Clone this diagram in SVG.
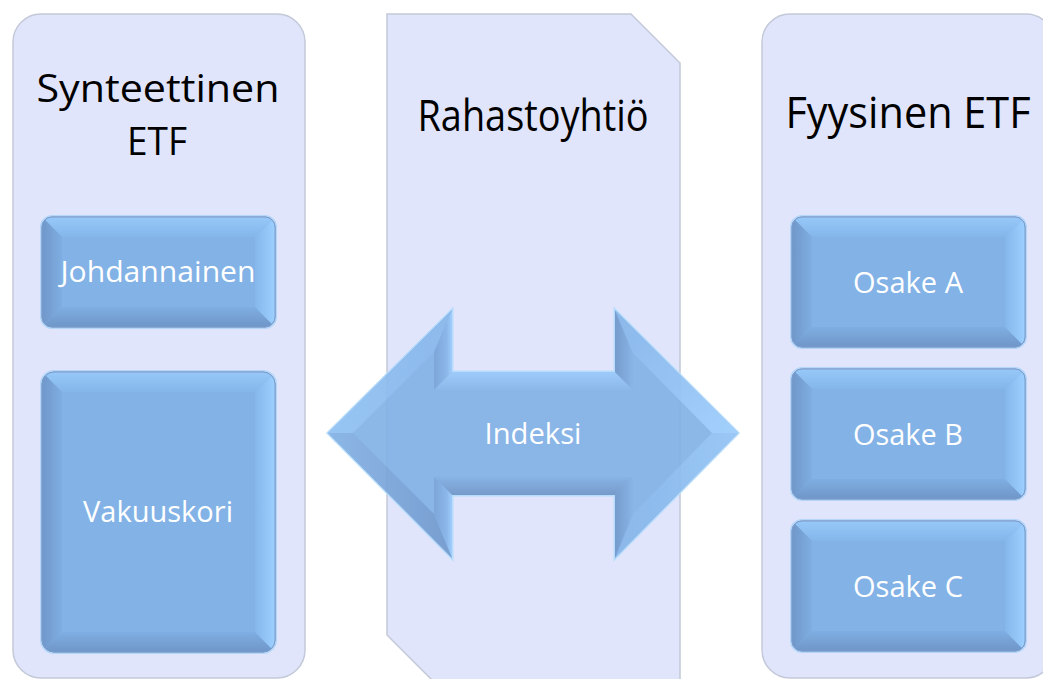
<svg xmlns="http://www.w3.org/2000/svg" width="1043" height="679" viewBox="0 0 1043 679">
<style>
.panel{fill:#E1E5FB;stroke:#C3C9D8;stroke-width:1.5}
.title{font-family:"Open Sans","Noto Sans",sans-serif;font-size:43px;fill:#000;text-anchor:middle}
.t2{font-size:38px}
.lbl{font-family:"Open Sans","Noto Sans",sans-serif;font-size:29px;fill:#fff;text-anchor:middle}
.base{fill:#82B2E6;stroke:#7C9CC8;stroke-width:1}
.glow{fill:none;stroke:#B3D6FA;stroke-width:4}
.ft{fill:url(#gTop)}
.fb{fill:url(#gBot)}
.fl{fill:url(#gLeft)}
.fr{fill:url(#gRight)}
</style>
<defs>
<linearGradient id="gTop" x1="0" y1="0" x2="0" y2="1"><stop offset="0" stop-color="#97C8F9"/><stop offset="1" stop-color="#85B6EA"/></linearGradient>
<linearGradient id="gBot" x1="0" y1="0" x2="0" y2="1"><stop offset="0" stop-color="#7FAEE2"/><stop offset="1" stop-color="#6F96C8"/></linearGradient>
<linearGradient id="gLeft" x1="0" y1="0" x2="1" y2="0"><stop offset="0" stop-color="#7097CA"/><stop offset="1" stop-color="#7FAEE2"/></linearGradient>
<linearGradient id="gRight" x1="0" y1="0" x2="1" y2="0"><stop offset="0" stop-color="#86B7EB"/><stop offset="1" stop-color="#9DCFFF"/></linearGradient>
<linearGradient id="aBackL" x1="0" y1="0" x2="1" y2="0"><stop offset="0" stop-color="#76A1D6"/><stop offset="0.7" stop-color="#84B3E8"/><stop offset="1" stop-color="#9CCDFD"/></linearGradient>
<linearGradient id="aBackR" x1="0" y1="0" x2="1" y2="0"><stop offset="0" stop-color="#6E96CA"/><stop offset="1" stop-color="#82B1E5"/></linearGradient>
<linearGradient id="aTopS" x1="0" y1="0" x2="0" y2="1"><stop offset="0" stop-color="#98C9FA"/><stop offset="1" stop-color="#84B4E8"/></linearGradient>
<linearGradient id="aBotS" x1="0" y1="0" x2="0" y2="1"><stop offset="0" stop-color="#80AFE3"/><stop offset="1" stop-color="#6E95C7"/></linearGradient>
<linearGradient id="aUR" x1="0" y1="0" x2="1" y2="1"><stop offset="0" stop-color="#84B4E8"/><stop offset="1" stop-color="#9BCCFD"/></linearGradient>
<linearGradient id="aLR" x1="0" y1="0" x2="1" y2="0"><stop offset="0" stop-color="#84B4E8"/><stop offset="1" stop-color="#92C3F5"/></linearGradient>
<linearGradient id="aUL" x1="0" y1="0" x2="1" y2="0"><stop offset="0" stop-color="#8FC0F2"/><stop offset="1" stop-color="#86B6EA"/></linearGradient>
<linearGradient id="aLL" x1="0" y1="0" x2="1" y2="0"><stop offset="0" stop-color="#82B1E5"/><stop offset="1" stop-color="#7199CD"/></linearGradient>
<clipPath id="c1"><rect x="42" y="217" width="233" height="110" rx="10"/></clipPath>
<clipPath id="c2"><rect x="42" y="372" width="233" height="280" rx="12"/></clipPath>
<clipPath id="c3"><rect x="792" y="217" width="233" height="130" rx="10"/></clipPath>
<clipPath id="c4"><rect x="792" y="369" width="233" height="130" rx="10"/></clipPath>
<clipPath id="c5"><rect x="792" y="521" width="233" height="130" rx="10"/></clipPath>
</defs>
<rect width="1043" height="679" fill="#fff"/>

<g id="panel-synteettinen">
<rect class="panel" x="13" y="14" width="292" height="664" rx="28"/>
<text class="title t2" x="158" y="102" textLength="243" lengthAdjust="spacingAndGlyphs">Synteettinen</text>
<text class="title t2" x="157" y="155" textLength="60" lengthAdjust="spacingAndGlyphs">ETF</text>
</g>

<g id="panel-rahastoyhtio">
<path class="panel" d="M387,14 H631 L680,63 V686 H438 L387,635 Z"/>
<text class="title" x="533" y="131" textLength="231" lengthAdjust="spacingAndGlyphs">Rahastoyhtiö</text>
</g>

<g id="panel-fyysinen">
<rect class="panel" x="762" y="14" width="292" height="664" rx="28"/>
<text class="title" x="908" y="128" textLength="245" lengthAdjust="spacingAndGlyphs">Fyysinen ETF</text>
</g>

<g id="connectors">
<g id="arrow-indeksi" opacity="0.92">
<polygon points="328,433 452,310 452,372 615,372 615,310 738,433 615,558 615,495 452,495 452,558" fill="none" stroke="#B5DCFB" stroke-width="3"/>
<polygon points="328,433 452,310 452,372 615,372 615,310 738,433 615,558 615,495 452,495 452,558" fill="#82B2E6"/>
<polygon fill="url(#aUL)" points="328,433 452,310 434,352 353,433"/>
<polygon fill="url(#aBackL)" points="452,310 452,372 434,390 434,352"/>
<polygon fill="url(#aTopS)" points="452,372 615,372 633,390 434,390"/>
<polygon fill="url(#aBackR)" points="615,372 615,310 633,353 633,390"/>
<polygon fill="url(#aUR)" points="615,310 738,433 712,433 633,353"/>
<polygon fill="url(#aLR)" points="738,433 615,558 633,514 712,433"/>
<polygon fill="url(#aBackR)" points="615,558 615,495 633,477 633,514"/>
<polygon fill="url(#aBotS)" points="615,495 452,495 434,477 633,477"/>
<polygon fill="url(#aBackL)" points="452,495 452,558 434,514 434,477"/>
<polygon fill="url(#aLL)" points="452,558 328,433 353,433 434,514"/>
</g>
<text class="lbl" x="533" y="444" textLength="97" lengthAdjust="spacingAndGlyphs">Indeksi</text>
</g>

<g id="node-johdannainen">
<rect class="glow" x="42" y="217" width="233" height="110" rx="10"/>
<rect class="base" x="42" y="217" width="233" height="110" rx="10"/>
<g clip-path="url(#c1)">
<polygon class="ft" points="42,217 275,217 255,237 62,237"/>
<polygon class="fb" points="42,327 275,327 255,307 62,307"/>
<polygon class="fl" points="42,217 62,237 62,307 42,327"/>
<polygon class="fr" points="275,217 255,237 255,307 275,327"/>
</g>
<rect x="42" y="217" width="233" height="110" rx="10" fill="none" stroke="#7C9CC8"/>
<text class="lbl" x="158" y="282" textLength="195" lengthAdjust="spacingAndGlyphs">Johdannainen</text>
</g>

<g id="node-vakuuskori">
<rect class="glow" x="42" y="372" width="233" height="280" rx="12"/>
<rect class="base" x="42" y="372" width="233" height="280" rx="12"/>
<g clip-path="url(#c2)">
<polygon class="ft" points="42,372 275,372 255,392 62,392"/>
<polygon class="fb" points="42,652 275,652 255,632 62,632"/>
<polygon class="fl" points="42,372 62,392 62,632 42,652"/>
<polygon class="fr" points="275,372 255,392 255,632 275,652"/>
</g>
<rect x="42" y="372" width="233" height="280" rx="12" fill="none" stroke="#7C9CC8"/>
<text class="lbl" x="158" y="522" textLength="150" lengthAdjust="spacingAndGlyphs">Vakuuskori</text>
</g>

<g id="node-osake-a">
<rect class="glow" x="792" y="217" width="233" height="130" rx="10"/>
<rect class="base" x="792" y="217" width="233" height="130" rx="10"/>
<g clip-path="url(#c3)">
<polygon class="ft" points="792,217 1025,217 1005,237 812,237"/>
<polygon class="fb" points="792,347 1025,347 1005,327 812,327"/>
<polygon class="fl" points="792,217 812,237 812,327 792,347"/>
<polygon class="fr" points="1025,217 1005,237 1005,327 1025,347"/>
</g>
<rect x="792" y="217" width="233" height="130" rx="10" fill="none" stroke="#7C9CC8"/>
<text class="lbl" x="908" y="293" textLength="110" lengthAdjust="spacingAndGlyphs">Osake A</text>
</g>

<g id="node-osake-b">
<rect class="glow" x="792" y="369" width="233" height="130" rx="10"/>
<rect class="base" x="792" y="369" width="233" height="130" rx="10"/>
<g clip-path="url(#c4)">
<polygon class="ft" points="792,369 1025,369 1005,389 812,389"/>
<polygon class="fb" points="792,499 1025,499 1005,479 812,479"/>
<polygon class="fl" points="792,369 812,389 812,479 792,499"/>
<polygon class="fr" points="1025,369 1005,389 1005,479 1025,499"/>
</g>
<rect x="792" y="369" width="233" height="130" rx="10" fill="none" stroke="#7C9CC8"/>
<text class="lbl" x="908" y="445" textLength="110" lengthAdjust="spacingAndGlyphs">Osake B</text>
</g>

<g id="node-osake-c">
<rect class="glow" x="792" y="521" width="233" height="130" rx="10"/>
<rect class="base" x="792" y="521" width="233" height="130" rx="10"/>
<g clip-path="url(#c5)">
<polygon class="ft" points="792,521 1025,521 1005,541 812,541"/>
<polygon class="fb" points="792,651 1025,651 1005,631 812,631"/>
<polygon class="fl" points="792,521 812,541 812,631 792,651"/>
<polygon class="fr" points="1025,521 1005,541 1005,631 1025,651"/>
</g>
<rect x="792" y="521" width="233" height="130" rx="10" fill="none" stroke="#7C9CC8"/>
<text class="lbl" x="908" y="597" textLength="110" lengthAdjust="spacingAndGlyphs">Osake C</text>
</g>
</svg>
